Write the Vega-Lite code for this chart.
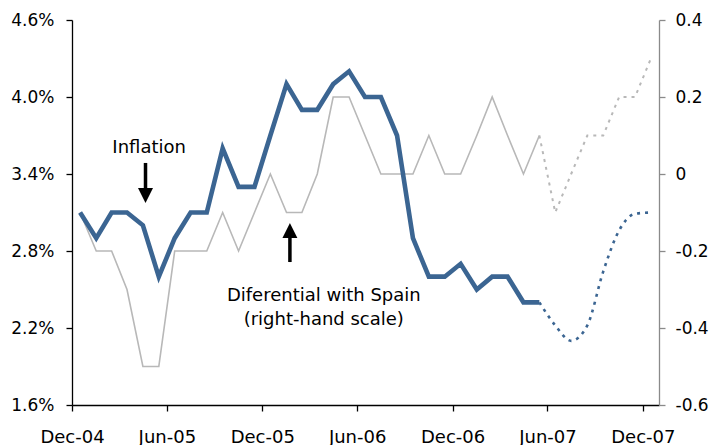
{
  "$schema": "https://vega.github.io/schema/vega-lite/v6.json",
  "width": 587,
  "height": 385,
  "autosize": {"type": "none"},
  "padding": {"left": 72, "top": 20, "right": 52, "bottom": 40},
  "background": "white",
  "config": {
    "view": {"stroke": null},
    "font": "DejaVu Sans",
    "axis": {"grid": false, "title": null, "labelFont": "DejaVu Sans", "labelFontSize": 17, "labelColor": "#000000", "tickSize": 6, "domainWidth": 1.3, "tickWidth": 1.3}
  },
  "datasets": {
    "actual": [
      {"month": "2004-12", "inflation": 3.1, "differential": -0.1},
      {"month": "2005-01", "inflation": 2.9, "differential": -0.2},
      {"month": "2005-02", "inflation": 3.1, "differential": -0.2},
      {"month": "2005-03", "inflation": 3.1, "differential": -0.3},
      {"month": "2005-04", "inflation": 3.0, "differential": -0.5},
      {"month": "2005-05", "inflation": 2.6, "differential": -0.5},
      {"month": "2005-06", "inflation": 2.9, "differential": -0.2},
      {"month": "2005-07", "inflation": 3.1, "differential": -0.2},
      {"month": "2005-08", "inflation": 3.1, "differential": -0.2},
      {"month": "2005-09", "inflation": 3.6, "differential": -0.1},
      {"month": "2005-10", "inflation": 3.3, "differential": -0.2},
      {"month": "2005-11", "inflation": 3.3, "differential": -0.1},
      {"month": "2005-12", "inflation": 3.7, "differential": 0.0},
      {"month": "2006-01", "inflation": 4.1, "differential": -0.1},
      {"month": "2006-02", "inflation": 3.9, "differential": -0.1},
      {"month": "2006-03", "inflation": 3.9, "differential": 0.0},
      {"month": "2006-04", "inflation": 4.1, "differential": 0.2},
      {"month": "2006-05", "inflation": 4.2, "differential": 0.2},
      {"month": "2006-06", "inflation": 4.0, "differential": 0.1},
      {"month": "2006-07", "inflation": 4.0, "differential": 0.0},
      {"month": "2006-08", "inflation": 3.7, "differential": 0.0},
      {"month": "2006-09", "inflation": 2.9, "differential": 0.0},
      {"month": "2006-10", "inflation": 2.6, "differential": 0.1},
      {"month": "2006-11", "inflation": 2.6, "differential": 0.0},
      {"month": "2006-12", "inflation": 2.7, "differential": 0.0},
      {"month": "2007-01", "inflation": 2.5, "differential": 0.1},
      {"month": "2007-02", "inflation": 2.6, "differential": 0.2},
      {"month": "2007-03", "inflation": 2.6, "differential": 0.1},
      {"month": "2007-04", "inflation": 2.4, "differential": 0.0},
      {"month": "2007-05", "inflation": 2.4, "differential": 0.1}
    ],
    "forecast": [
      {"month": "2007-05", "inflation": 2.4, "differential": 0.1},
      {"month": "2007-06", "inflation": 2.22, "differential": -0.1},
      {"month": "2007-07", "inflation": 2.1, "differential": 0.0},
      {"month": "2007-08", "inflation": 2.22, "differential": 0.1},
      {"month": "2007-09", "inflation": 2.64, "differential": 0.1},
      {"month": "2007-10", "inflation": 2.96, "differential": 0.2},
      {"month": "2007-11", "inflation": 3.09, "differential": 0.2},
      {"month": "2007-12", "inflation": 3.1, "differential": 0.3}
    ],
    "labels": [
      {"text": "Inflation", "date": "2005-04-28", "value": 3.565},
      {"text": "Diferential with Spain", "date": "2006-03-29", "value": 2.411},
      {"text": "(right-hand scale)", "date": "2006-03-29", "value": 2.224}
    ],
    "shafts": [
      {"arrow": "inflation", "date": "2005-04-21", "from": 3.486, "to": 3.27},
      {"arrow": "differential", "date": "2006-01-23", "from": 2.925, "to": 2.714}
    ],
    "heads": [
      {"arrow": "inflation", "date": "2005-04-21", "value": 3.232, "dir": "down"},
      {"arrow": "differential", "date": "2006-01-23", "value": 2.96, "dir": "up"}
    ]
  },
  "layer": [
    {
      "layer": [
        {
          "data": {"name": "actual"},
          "mark": {"type": "line", "color": "#b8b8b8", "strokeWidth": 1.6},
          "encoding": {
            "x": {"field": "month", "type": "temporal", "timeUnit": "yearmonth", "bandPosition": 0.5},
            "y": {"field": "differential", "type": "quantitative"}
          }
        },
        {
          "data": {"name": "forecast"},
          "mark": {"type": "line", "color": "#b8b8b8", "strokeWidth": 2, "strokeDash": [3, 5]},
          "encoding": {
            "x": {"field": "month", "type": "temporal", "timeUnit": "yearmonth", "bandPosition": 0.5},
            "y": {"field": "differential", "type": "quantitative"}
          }
        }
      ],
      "encoding": {
        "y": {
          "field": "differential",
          "type": "quantitative",
          "scale": {"domain": [-0.6, 0.4], "nice": false, "zero": false},
          "axis": {
            "orient": "right",
            "values": [-0.6, -0.4, -0.2, 0, 0.2, 0.4],
            "labelExpr": "datum.value < -0.001 ? '-' + format(-datum.value, '.1f') : (datum.value > 0.001 ? format(datum.value, '.1f') : '0')",
            "domainColor": "#8a8a8a",
            "tickColor": "#8a8a8a",
            "labelPadding": 10
          }
        }
      }
    },
    {
      "layer": [
        {
          "data": {"name": "actual"},
          "mark": {"type": "line", "color": "#3b6592", "strokeWidth": 4.6},
          "encoding": {
            "x": {
              "field": "month", "type": "temporal", "timeUnit": "yearmonth", "bandPosition": 0.5,
              "scale": {"domain": [{"year": 2004, "month": 12, "date": 1}, {"year": 2008, "month": 1, "date": 1}]},
              "axis": {
                "values": [
                  {"year": 2004, "month": 12, "date": 1},
                  {"year": 2005, "month": 6, "date": 1},
                  {"year": 2005, "month": 12, "date": 1},
                  {"year": 2006, "month": 6, "date": 1},
                  {"year": 2006, "month": 12, "date": 1},
                  {"year": 2007, "month": 6, "date": 1},
                  {"year": 2007, "month": 12, "date": 1}
                ],
                "format": "%b-%y",
                "formatType": "time",
                "labelFlush": false,
                "labelOverlap": false,
                "labelFontSize": 18,
                "domainColor": "#000000",
                "tickColor": "#000000",
                "labelPadding": 17
              }
            },
            "y": {"field": "inflation", "type": "quantitative"}
          }
        },
        {
          "data": {"name": "forecast"},
          "mark": {"type": "line", "color": "#3b6592", "strokeWidth": 2.6, "strokeDash": [3, 5], "interpolate": "monotone"},
          "encoding": {
            "x": {"field": "month", "type": "temporal", "timeUnit": "yearmonth", "bandPosition": 0.5},
            "y": {"field": "inflation", "type": "quantitative"}
          }
        },
        {
          "data": {"name": "labels"},
          "mark": {"type": "text", "fontSize": 18, "align": "center", "baseline": "alphabetic", "color": "#000000"},
          "encoding": {
            "x": {"field": "date", "type": "temporal"},
            "y": {"field": "value", "type": "quantitative"},
            "text": {"field": "text"}
          }
        },
        {
          "data": {"name": "shafts"},
          "mark": {"type": "rule", "color": "#000000", "strokeWidth": 3.5},
          "encoding": {
            "x": {"field": "date", "type": "temporal"},
            "y": {"field": "from", "type": "quantitative"},
            "y2": {"field": "to"}
          }
        },
        {
          "data": {"name": "heads"},
          "mark": {"type": "point", "filled": true, "color": "#000000", "opacity": 1, "size": 225},
          "encoding": {
            "x": {"field": "date", "type": "temporal"},
            "y": {"field": "value", "type": "quantitative"},
            "shape": {
              "field": "dir",
              "type": "nominal",
              "scale": {"domain": ["down", "up"], "range": ["M-1,-1L1,-1L0,1Z", "M-1,1L1,1L0,-1Z"]},
              "legend": null
            }
          }
        }
      ],
      "encoding": {
        "y": {
          "field": "inflation",
          "type": "quantitative",
          "scale": {"domain": [1.6, 4.6], "nice": false, "zero": false},
          "axis": {
            "orient": "left",
            "values": [1.6, 2.2, 2.8, 3.4, 4.0, 4.6],
            "labelExpr": "format(datum.value, '.1f') + '%'",
            "domainColor": "#000000",
            "tickColor": "#000000",
            "labelPadding": 12
          }
        }
      }
    }
  ],
  "resolve": {"scale": {"y": "independent"}}
}
